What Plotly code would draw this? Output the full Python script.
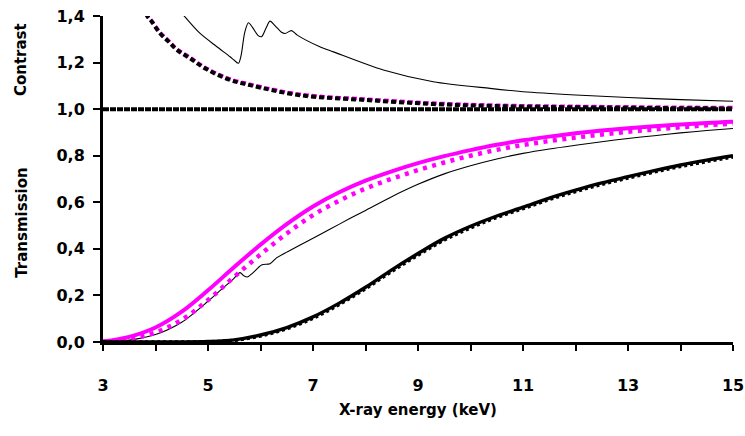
import plotly.graph_objects as go

# ---------------- data ----------------
# Transmission, magenta solid
x_tm = [3.0, 3.5, 4.0, 4.5, 5.0, 5.5, 6.0, 6.5, 7.0, 7.5, 8.0, 8.5, 9.0, 9.5,
        10.0, 10.5, 11.0, 11.5, 12.0, 12.5, 13.0, 13.5, 14.0, 14.5, 15.0]
y_tm = [0.002, 0.022, 0.062, 0.13, 0.222, 0.322, 0.418, 0.506, 0.582, 0.643, 0.693,
        0.733, 0.768, 0.798, 0.824, 0.847, 0.866, 0.882, 0.896, 0.908, 0.918, 0.927,
        0.934, 0.941, 0.946]

# Transmission, magenta dotted
x_tmd = [3.0, 3.5, 4.0, 4.5, 5.0, 5.5, 6.0, 6.5, 7.0, 7.5, 8.0, 8.5, 9.0, 9.5,
         10.0, 10.5, 11.0, 11.5, 12.0, 12.5, 13.0, 13.5, 14.0, 14.5, 15.0]
y_tmd = [0.001, 0.013, 0.041, 0.095, 0.18, 0.28, 0.376, 0.466, 0.545, 0.607, 0.659,
         0.701, 0.738, 0.771, 0.8, 0.825, 0.846, 0.863, 0.878, 0.891, 0.903, 0.913,
         0.922, 0.931, 0.938]

# Transmission, black thin (with absorption edges)
x_tb = [3.0, 3.5, 4.0, 4.5, 5.0, 5.25, 5.47, 5.61, 5.68, 5.75, 5.85, 6.02, 6.18,
        6.3, 6.5, 6.56, 6.91, 7.32, 7.7, 8.0, 8.5, 9.0, 9.5, 10.0, 10.5, 11.0, 11.5,
        12.0, 12.5, 13.0, 13.5, 14.0, 14.5, 15.0]
y_tb = [0.0, 0.008, 0.032, 0.085, 0.175, 0.225, 0.268, 0.298, 0.285, 0.279, 0.296,
        0.331, 0.336, 0.36, 0.386, 0.393, 0.435, 0.484, 0.53, 0.565, 0.624, 0.677, 0.722,
        0.757, 0.786, 0.81, 0.829, 0.845, 0.86, 0.874, 0.886, 0.898, 0.908, 0.917]

# Transmission, black thick solid
x_tk = [3.0, 4.0, 4.5, 5.0, 5.5, 6.0, 6.5, 7.0, 7.5, 8.0, 8.5, 9.0, 9.5, 10.0, 10.5,
        11.0, 11.5, 12.0, 12.5, 13.0, 13.5, 14.0, 14.5, 15.0]
y_tk = [0.0, 0.0, 0.0, 0.002, 0.009, 0.03, 0.062, 0.108, 0.167, 0.235, 0.31, 0.38, 0.445,
        0.497, 0.541, 0.579, 0.618, 0.652, 0.683, 0.71, 0.736, 0.76, 0.781, 0.80]

# Transmission, black dotted
y_tkd = [0.0, 0.0, 0.0, 0.001, 0.007, 0.026, 0.057, 0.102, 0.161, 0.229, 0.303, 0.373,
         0.438, 0.49, 0.535, 0.573, 0.612, 0.646, 0.677, 0.704, 0.73, 0.754, 0.775, 0.795]

# Contrast, black thin
x_cb = [3.0, 3.5, 4.0, 4.3, 4.53, 4.85, 5.17, 5.42, 5.5, 5.58, 5.63, 5.7, 5.77, 5.85,
        5.95, 6.02, 6.1, 6.18, 6.28, 6.4, 6.47, 6.59, 6.7, 7.13, 7.39, 8.34, 9.29,
        10.37, 11.0, 12.0, 13.0, 14.0, 15.0]
y_cb = [2.4, 1.85, 1.56, 1.46, 1.404, 1.325, 1.268, 1.225, 1.21, 1.197, 1.23, 1.33, 1.371,
        1.35, 1.317, 1.311, 1.345, 1.378, 1.358, 1.33, 1.325, 1.337, 1.318, 1.268, 1.246,
        1.168, 1.118, 1.089, 1.075, 1.061, 1.05, 1.041, 1.034]

# Contrast, black dashed (magenta dashed nearly identical)
x_cd = [3.0, 3.5, 3.83, 3.93, 4.09, 4.25, 4.4, 4.66, 4.97, 5.39, 5.8, 6.75, 8.02, 9.29,
        10.5, 12.0, 13.0, 14.0, 15.0]
y_cd = [2.0, 1.6, 1.404, 1.375, 1.325, 1.29, 1.256, 1.218, 1.172, 1.128, 1.103, 1.06,
        1.039, 1.022, 1.013, 1.008, 1.006, 1.004, 1.003]
y_cm = [2.0, 1.6, 1.408, 1.379, 1.329, 1.294, 1.26, 1.222, 1.176, 1.132, 1.107, 1.064,
        1.043, 1.026, 1.017, 1.012, 1.01, 1.008, 1.007]

# Contrast = 1 reference line
x_c1 = [3.0, 15.0]
y_c1 = [1.0, 1.0]

y_tickvals = [0.0, 0.2, 0.4, 0.6, 0.8, 1.0, 1.2, 1.4]
y_ticktext = ["0,0", "0,2", "0,4", "0,6", "0,8", "1,0", "1,2", "1,4"]
x_tickvals = [3, 4, 5, 6, 7, 8, 9, 10, 11, 12, 13, 14, 15]
x_ticktext = ["3", "", "5", "", "7", "", "9", "", "11", "", "13", "", "15"]

MAG = "#FF00FF"
FONT = "Comic Sans MS, DejaVu Sans, sans-serif"

fig = go.Figure()

def add(x, y, color, width, dash="solid", smoothing=1.0):
    fig.add_trace(go.Scatter(x=x, y=y, mode="lines",
                             line=dict(color=color, width=width, dash=dash,
                                       shape="spline", smoothing=smoothing),
                             hoverinfo="skip", showlegend=False))

# contrast
add(x_cd, y_cm, MAG, 3.5, "5px,3px")
add(x_cd, y_cd, "black", 4, "5px,3px")
add(x_cb, y_cb, "black", 1.1, smoothing=0.8)
fig.add_trace(go.Scatter(x=x_c1, y=y_c1, mode="lines",
                         line=dict(color="black", width=4, dash="6px,1px"),
                         hoverinfo="skip", showlegend=False))
# transmission
add(x_tb, y_tb, "black", 1.1, smoothing=0.8)
add(x_tmd, y_tmd, MAG, 4.5, "4px,5.5px")
add(x_tm, y_tm, MAG, 4)
add(x_tk, y_tkd, "black", 3.5, "3px,3px")
add(x_tk, y_tk, "black", 3.4)

fig.update_layout(
    width=745, height=436,
    margin=dict(l=103, r=12, t=16, b=94, autoexpand=False),
    paper_bgcolor="white", plot_bgcolor="white",
    font=dict(family=FONT, size=15, color="black"),
    showlegend=False,
    xaxis=dict(range=[3, 15], showgrid=False, zeroline=False,
               showline=True, linecolor="black", linewidth=3,
               ticks="outside", ticklen=6, tickwidth=2, tickcolor="black",
               tickvals=x_tickvals, ticktext=x_ticktext, automargin=False,
               tickfont=dict(family=FONT, size=16, color="black", weight="bold"),
               ticklabelstandoff=21),
    yaxis=dict(range=[0, 1.4], showgrid=False, zeroline=False,
               showline=True, linecolor="black", linewidth=3,
               ticks="outside", ticklen=7, tickwidth=2, tickcolor="black",
               tickvals=y_tickvals, ticktext=y_ticktext, automargin=False,
               tickfont=dict(family=FONT, size=16, color="black", weight="bold"),
               ticklabelstandoff=5),
    annotations=[
        dict(text="<b>Contrast</b>", xref="paper", yref="paper", x=-0.129, y=0.867,
             showarrow=False, textangle=-90, xanchor="center", yanchor="middle",
             font=dict(family=FONT, size=15)),
        dict(text="<b>Transmission</b>", xref="paper", yref="paper", x=-0.129, y=0.365,
             showarrow=False, textangle=-90, xanchor="center", yanchor="middle",
             font=dict(family=FONT, size=15)),
        dict(text="<b>X-ray energy (keV)</b>", xref="paper", yref="paper", x=0.5, y=-0.209,
             showarrow=False, xanchor="center", yanchor="middle",
             font=dict(family=FONT, size=15)),
    ],
)

fig.write_html("out.html", config={"displayModeBar": False},
               post_script="document.body.style.margin='0px';"
                           "document.body.style.overflow='hidden';")
